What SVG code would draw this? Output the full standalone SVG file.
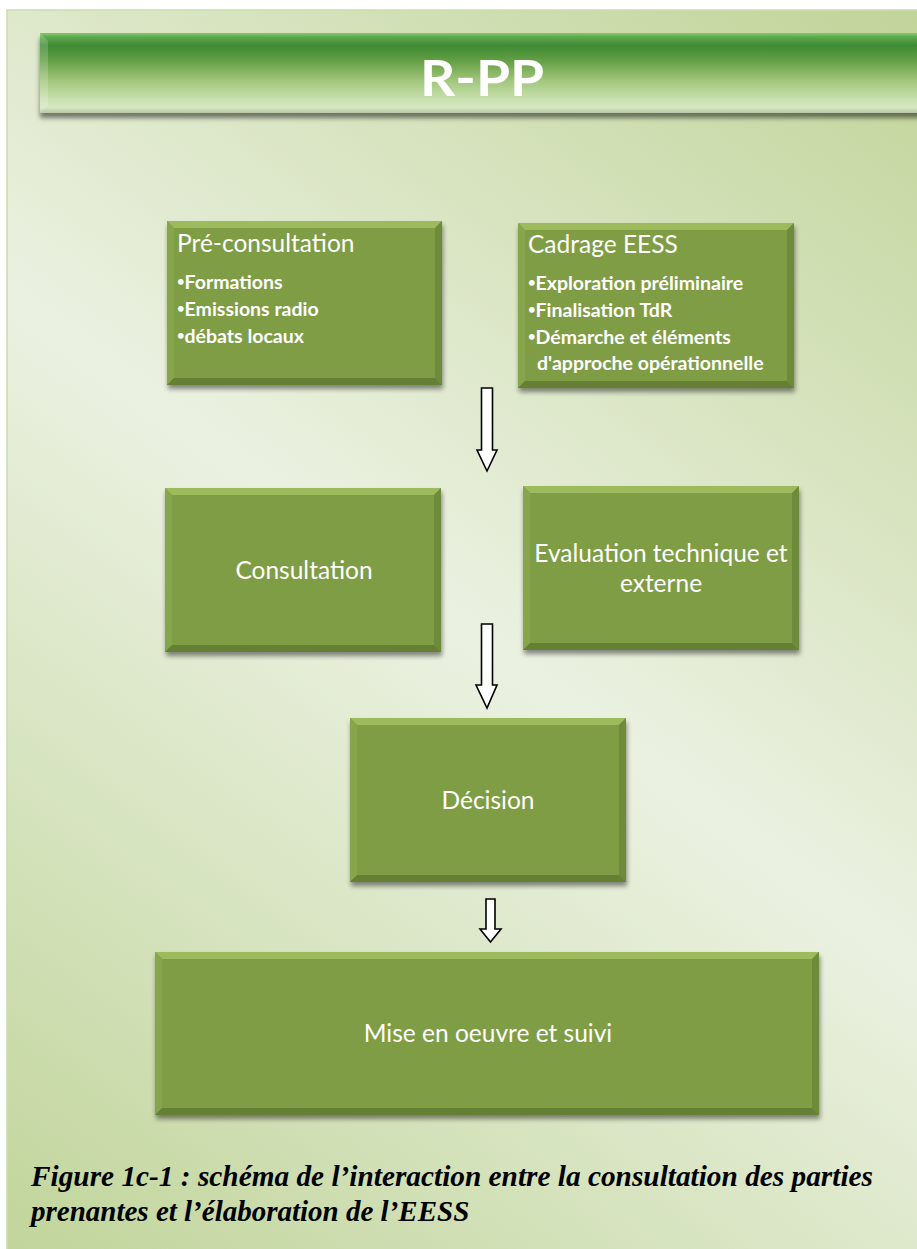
<svg xmlns="http://www.w3.org/2000/svg" width="917" height="1249" viewBox="0 0 917 1249">
  <defs>
    <linearGradient id="bgGrad" gradientUnits="userSpaceOnUse" x1="917" y1="10" x2="7" y2="1249">
      <stop offset="0" stop-color="#c1d499"/>
      <stop offset="0.5" stop-color="#ebf1e1"/>
      <stop offset="1" stop-color="#c1d59b"/>
    </linearGradient>
    <linearGradient id="barGrad" x1="0" y1="0" x2="0" y2="1">
      <stop offset="0" stop-color="#84c972"/>
      <stop offset="0.05" stop-color="#5ea84c"/>
      <stop offset="0.16" stop-color="#3f8a33"/>
      <stop offset="0.35" stop-color="#64a046"/>
      <stop offset="0.6" stop-color="#a3c77d"/>
      <stop offset="0.85" stop-color="#cce2b3"/>
      <stop offset="0.93" stop-color="#d6e7c2"/>
      <stop offset="1" stop-color="#b8c7a6"/>
    </linearGradient>
    <filter id="shadow" x="-5%" y="-5%" width="112%" height="120%">
      <feGaussianBlur in="SourceAlpha" stdDeviation="2.5"/>
      <feOffset dx="1" dy="4" result="b"/>
      <feComponentTransfer><feFuncA type="linear" slope="0.45"/></feComponentTransfer>
      <feMerge><feMergeNode/><feMergeNode in="SourceGraphic"/></feMerge>
    </filter>
    <filter id="barShadow" x="-2%" y="-10%" width="104%" height="140%">
      <feGaussianBlur in="SourceAlpha" stdDeviation="2.5"/>
      <feOffset dx="0" dy="5" result="b"/>
      <feComponentTransfer><feFuncA type="linear" slope="0.5"/></feComponentTransfer>
      <feMerge><feMergeNode/><feMergeNode in="SourceGraphic"/></feMerge>
    </filter>
  </defs>
  <style>
    .box { fill: #7f9d45; }
    .bt { fill: #9dba5b; }
    .bl { fill: #87a64b; }
    .br { fill: #6e8b3a; }
    .bb { fill: #657f34; }
    .head { font-family: Lato, "Liberation Sans", sans-serif; font-size: 24.5px; fill: #ffffff; }
    .item { font-family: Lato, "Liberation Sans", sans-serif; font-size: 19.5px; font-weight: bold; fill: #ffffff; }
    .dot { font-size: 13px; }
    .lbl { font-family: Lato, "Liberation Sans", sans-serif; font-size: 24.5px; fill: #ffffff; text-anchor: middle; }
    .arrow { fill: #ffffff; stroke: #000000; stroke-width: 1.6; stroke-linejoin: miter; }
    .cap { font-family: "Liberation Serif", serif; font-style: italic; font-weight: bold; font-size: 29px; fill: #000000; }
  </style>

  <!-- background panel -->
  <rect x="7" y="10" width="915" height="1245" fill="url(#bgGrad)" stroke="#cbdcae" stroke-width="1.5"/>

  <!-- title bar -->
  <g id="title">
    <g filter="url(#barShadow)">
      <rect x="40" y="33" width="890" height="80" fill="url(#barGrad)"/>
      <polygon points="40,33 48,41 48,105 40,113" fill="#ffffff" opacity="0.18"/>
    </g>
    <text x="482" y="96" font-family="Lato, 'Liberation Sans', sans-serif" font-weight="bold" font-size="50" fill="#ffffff" text-anchor="middle" textLength="124" lengthAdjust="spacingAndGlyphs">R-PP</text>
  </g>

  <!-- Pré-consultation -->
  <g id="preconsultation">
    <g filter="url(#shadow)">
      <rect class="box" x="167" y="221" width="275" height="164"/>
      <polygon class="bt" points="167,221 442,221 435,228 174,228"/>
      <polygon class="bl" points="167,221 174,228 174,378 167,385"/>
      <polygon class="br" points="442,221 442,385 435,378 435,228"/>
      <polygon class="bb" points="167,385 174,378 435,378 442,385"/>
    </g>
    <text class="head" x="177" y="252">Pré-consultation</text>
    <text class="item" x="177" y="289"><tspan class="dot" dy="-3">•</tspan><tspan dy="3">Formations</tspan></text>
    <text class="item" x="177" y="316"><tspan class="dot" dy="-3">•</tspan><tspan dy="3">Emissions radio</tspan></text>
    <text class="item" x="177" y="343"><tspan class="dot" dy="-3">•</tspan><tspan dy="3">débats locaux</tspan></text>
  </g>

  <!-- Cadrage EESS -->
  <g id="cadrage">
    <g filter="url(#shadow)">
      <rect class="box" x="518" y="223" width="276" height="165"/>
      <polygon class="bt" points="518,223 794,223 787,230 525,230"/>
      <polygon class="bl" points="518,223 525,230 525,381 518,388"/>
      <polygon class="br" points="794,223 794,388 787,381 787,230"/>
      <polygon class="bb" points="518,388 525,381 787,381 794,388"/>
    </g>
    <text class="head" x="528" y="253">Cadrage EESS</text>
    <text class="item" x="528" y="290"><tspan class="dot" dy="-3">•</tspan><tspan dy="3">Exploration préliminaire</tspan></text>
    <text class="item" x="528" y="317"><tspan class="dot" dy="-3">•</tspan><tspan dy="3">Finalisation TdR</tspan></text>
    <text class="item" x="528" y="344"><tspan class="dot" dy="-3">•</tspan><tspan dy="3">Démarche et éléments</tspan></text>
    <text class="item" x="537" y="370">d'approche opérationnelle</text>
  </g>

  <!-- Consultation -->
  <g id="consultation">
    <g filter="url(#shadow)">
      <rect class="box" x="165" y="488" width="276" height="164"/>
      <polygon class="bt" points="165,488 441,488 434,495 172,495"/>
      <polygon class="bl" points="165,488 172,495 172,645 165,652"/>
      <polygon class="br" points="441,488 441,652 434,645 434,495"/>
      <polygon class="bb" points="165,652 172,645 434,645 441,652"/>
    </g>
    <text class="lbl" x="304" y="579">Consultation</text>
  </g>

  <!-- Evaluation technique et externe -->
  <g id="evaluation">
    <g filter="url(#shadow)">
      <rect class="box" x="523" y="486" width="276" height="164"/>
      <polygon class="bt" points="523,486 799,486 792,493 530,493"/>
      <polygon class="bl" points="523,486 530,493 530,643 523,650"/>
      <polygon class="br" points="799,486 799,650 792,643 792,493"/>
      <polygon class="bb" points="523,650 530,643 792,643 799,650"/>
    </g>
    <text class="lbl" x="661" y="562">Evaluation technique et</text>
    <text class="lbl" x="661" y="592">externe</text>
  </g>

  <!-- Décision -->
  <g id="decision">
    <g filter="url(#shadow)">
      <rect class="box" x="350" y="718" width="276" height="164"/>
      <polygon class="bt" points="350,718 626,718 619,725 357,725"/>
      <polygon class="bl" points="350,718 357,725 357,875 350,882"/>
      <polygon class="br" points="626,718 626,882 619,875 619,725"/>
      <polygon class="bb" points="350,882 357,875 619,875 626,882"/>
    </g>
    <text class="lbl" x="488" y="809">Décision</text>
  </g>

  <!-- Mise en oeuvre et suivi -->
  <g id="mise-en-oeuvre">
    <g filter="url(#shadow)">
      <rect class="box" x="155" y="952" width="664" height="163"/>
      <polygon class="bt" points="155,952 819,952 812,959 162,959"/>
      <polygon class="bl" points="155,952 162,959 162,1108 155,1115"/>
      <polygon class="br" points="819,952 819,1115 812,1108 812,959"/>
      <polygon class="bb" points="155,1115 162,1108 812,1108 819,1115"/>
    </g>
    <text class="lbl" x="488" y="1042">Mise en oeuvre et suivi</text>
  </g>

  <!-- connectors: block arrows -->
  <g id="connectors">
    <path class="arrow" d="M481.5,388 H492.5 V450 H497 L487,471 L477,450 H481.5 Z"/>
    <path class="arrow" d="M481.5,624 H492.5 V685 H497 L487,708 L476,685 H481.5 Z"/>
    <path class="arrow" d="M486,899 H495 V929 H501 L490.5,942 L480,929 H486 Z"/>
  </g>

  <!-- caption -->
  <g id="caption">
    <text class="cap" x="31" y="1186" textLength="842" lengthAdjust="spacingAndGlyphs">Figure 1c-1 : schéma de l’interaction entre la consultation des parties</text>
    <text class="cap" x="31" y="1221">prenantes et l’élaboration de l’EESS</text>
  </g>
</svg>
